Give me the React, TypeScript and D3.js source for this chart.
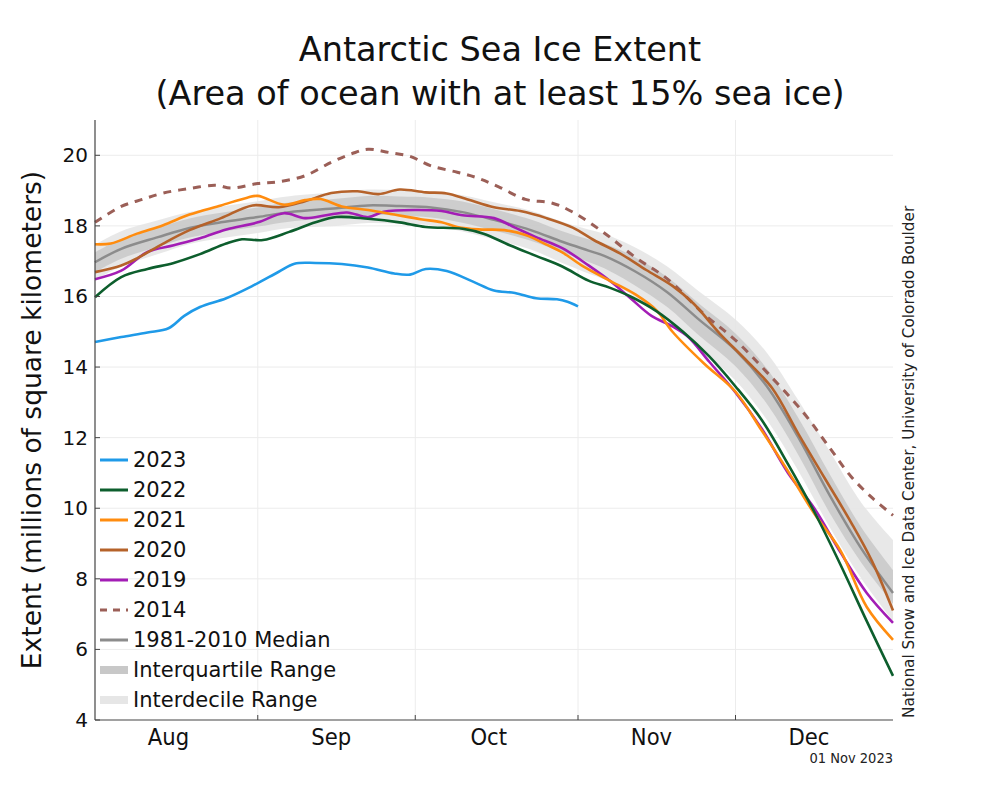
import React from "react";
import * as d3 from "d3";

// Day index: 0 = Aug 1, 152 = Dec 31
const monthNames = ["Aug", "Sep", "Oct", "Nov", "Dec"];
const monthStartDays = [0, 31, 61, 92, 122, 153];
const monthLabelDays = [14, 45, 75, 106, 136];
const yTicks = [4, 6, 8, 10, 12, 14, 16, 18, 20];

const days2023 = [0, 5, 10, 14, 17, 20, 25, 30, 35, 38, 42, 47, 52, 57, 60, 63, 67, 72, 76, 80, 84, 88, 90, 92];
const ext2023 = [14.71, 14.85, 14.98, 15.1, 15.45, 15.7, 15.95, 16.3, 16.7, 16.93, 16.95, 16.92, 16.82, 16.65, 16.62, 16.78, 16.72, 16.42, 16.17, 16.1, 15.95, 15.92, 15.85, 15.72];

const days2022 = [0, 5, 10, 15, 20, 25, 28, 32, 37, 42, 46, 52, 58, 63, 70, 74, 79, 84, 89, 94, 98, 102, 107, 112, 117, 122, 127, 132, 137, 142, 147, 152];
const ext2022 = [15.98, 16.55, 16.78, 16.95, 17.2, 17.5, 17.62, 17.6, 17.83, 18.1, 18.25, 18.2, 18.1, 17.97, 17.92, 17.78, 17.45, 17.15, 16.85, 16.45, 16.25, 16.0, 15.58, 15.0, 14.3, 13.45, 12.5, 11.25, 9.9, 8.4, 6.8, 5.25];

const days2021 = [0, 3, 8, 13, 18, 24, 29, 31, 36, 40, 43, 47, 52, 57, 62, 66, 69, 73, 78, 82, 86, 89, 93, 98, 103, 107, 110, 116, 122, 127, 132, 137, 142, 147, 152];
const ext2021 = [17.48, 17.5, 17.78, 18.02, 18.32, 18.58, 18.8, 18.85, 18.6, 18.73, 18.76, 18.55, 18.45, 18.32, 18.19, 18.1, 17.97, 17.9, 17.88, 17.74, 17.47, 17.25, 16.85, 16.45, 16.05, 15.6, 15.0, 14.1, 13.3, 12.2, 11.05, 9.85, 8.8, 7.2, 6.27];

const days2020 = [0, 5, 8, 13, 18, 24, 30, 35, 40, 45, 50, 54, 58, 63, 67, 71, 76, 81, 86, 91, 95, 100, 105, 110, 114, 119, 124, 129, 134, 139, 144, 148, 152];
const ext2020 = [16.69, 16.88, 17.08, 17.5, 17.88, 18.22, 18.58, 18.53, 18.7, 18.93, 18.98, 18.9, 19.03, 18.95, 18.92, 18.75, 18.53, 18.42, 18.22, 17.95, 17.6, 17.22, 16.75, 16.3, 15.8, 14.95, 14.2, 13.4, 12.1, 10.85, 9.6, 8.5, 7.1];

const days2019 = [0, 5, 10, 15, 20, 25, 31, 36, 40, 44, 48, 52, 55, 61, 66, 70, 76, 80, 84, 89, 94, 98, 102, 106, 110, 113, 117, 122, 127, 132, 137, 142, 147, 152];
const ext2019 = [16.49, 16.73, 17.26, 17.45, 17.65, 17.9, 18.1, 18.36, 18.22, 18.3, 18.38, 18.25, 18.4, 18.45, 18.42, 18.3, 18.22, 17.95, 17.68, 17.37, 16.88, 16.45, 15.95, 15.45, 15.15, 14.85, 14.15, 13.28, 12.25, 11.0, 10.0, 8.75, 7.6, 6.75];

const days2014 = [0, 5, 9, 13, 18, 23, 26, 31, 35, 40, 45, 49, 52, 56, 60, 64, 69, 73, 77, 82, 87, 91, 97, 103, 109, 116, 122, 128, 135, 140, 144, 148, 152];
const ext2014 = [18.1, 18.55, 18.75, 18.93, 19.06, 19.15, 19.07, 19.2, 19.25, 19.42, 19.8, 20.05, 20.17, 20.08, 19.97, 19.7, 19.52, 19.35, 19.1, 18.75, 18.65, 18.39, 17.8, 17.1, 16.5, 15.5, 14.76, 13.85, 12.7, 11.7, 10.9, 10.3, 9.8];

const daysMedian = [0, 5, 12, 18, 24, 31, 37, 46, 52, 58, 64, 70, 76, 83, 89, 94, 97, 103, 109, 115, 122, 128, 134, 140, 146, 152];
const extMedian = [16.97, 17.35, 17.68, 17.94, 18.1, 18.25, 18.39, 18.5, 18.58, 18.56, 18.52, 18.39, 18.17, 17.88, 17.55, 17.3, 17.15, 16.7, 16.12, 15.35, 14.48, 13.45, 12.0, 10.35, 8.85, 7.6];
const iqrHigh = [17.25, 17.63, 17.95, 18.21, 18.37, 18.52, 18.66, 18.77, 18.85, 18.83, 18.8, 18.69, 18.47, 18.18, 17.85, 17.62, 17.5, 17.1, 16.55, 15.8, 14.95, 13.95, 12.55, 10.95, 9.45, 8.25];
const iqrLow = [16.69, 17.07, 17.41, 17.67, 17.83, 17.98, 18.12, 18.23, 18.31, 18.29, 18.24, 18.09, 17.87, 17.58, 17.25, 16.98, 16.8, 16.3, 15.7, 14.9, 14.02, 12.95, 11.5, 9.85, 8.45, 7.3];
const idrHigh = [17.47, 17.85, 18.16, 18.39, 18.55, 18.7, 18.84, 18.95, 19.03, 19.01, 18.97, 18.87, 18.67, 18.43, 18.12, 17.9, 17.78, 17.38, 16.85, 16.15, 15.35, 14.4, 13.05, 11.6, 10.15, 9.1];
const idrLow = [16.47, 16.85, 17.2, 17.49, 17.65, 17.8, 17.94, 18.0, 18.08, 18.06, 18.02, 17.84, 17.62, 17.33, 16.95, 16.65, 16.48, 15.98, 15.35, 14.55, 13.62, 12.5, 11.05, 9.45, 8.0, 6.8];

const seriesNames = ["2023", "2022", "2021", "2020", "2019", "2014"];
const seriesColors = ["#1f9ae8", "#0d5e2d", "#ff8c0f", "#b5622a", "#a31db5", "#9b5f57"];

const W = 1000;
const H = 800;
const left = 95;
const right = 893;
const top = 120;
const bottom = 720;

export default function App() {
  const x = d3.scaleLinear().domain([0, 152]).range([left, right]);
  const y = d3.scaleLinear().domain([4, 21]).range([bottom, top]);
  const line = (ds: number[], vs: number[]) =>
    d3
      .line<number>()
      .x((_, i) => x(ds[i]))
      .y((v) => y(v))
      .curve(d3.curveCatmullRom.alpha(0.5))(vs) || "";
  const band = (ds: number[], lo: number[], hi: number[]) =>
    d3
      .area<number>()
      .x((_, i) => x(ds[i]))
      .y0((_, i) => y(lo[i]))
      .y1((_, i) => y(hi[i]))
      .curve(d3.curveCatmullRom.alpha(0.5))(ds) || "";

  const seriesDays = [days2023, days2022, days2021, days2020, days2019, days2014];
  const seriesVals = [ext2023, ext2022, ext2021, ext2020, ext2019, ext2014];

  const legendItems = [
    ...seriesNames.map((n, i) => ({ label: n, color: seriesColors[i], w: 3, dash: i === 5 ? "7 6" : undefined })),
    { label: "1981-2010 Median", color: "#8c8c8c", w: 3, dash: undefined },
    { label: "Interquartile Range", color: "#c8c8c8", w: 8, dash: undefined },
    { label: "Interdecile Range", color: "#e6e6e6", w: 8, dash: undefined },
  ];

  const font = "DejaVu Sans, sans-serif";
  const condensed = "DejaVu Sans Condensed, DejaVu Sans, sans-serif";

  return (
    <svg width={W} height={H} style={{ position: "absolute", left: 0, top: 0, background: "#fff" }}>
      <rect width={W} height={H} fill="#fff" />
      <text x={500} y={61} textAnchor="middle" fontFamily={font} fontSize={33.5} fill="#111">
        Antarctic Sea Ice Extent
      </text>
      <text x={500} y={105} textAnchor="middle" fontFamily={font} fontSize={33.5} fill="#111">
        (Area of ocean with at least 15% sea ice)
      </text>

      {/* grid */}
      <g stroke="#ececec" strokeWidth={1}>
        {yTicks.slice(1).map((t) => (
          <line key={"gy" + t} x1={left} x2={right} y1={y(t)} y2={y(t)} />
        ))}
        {monthStartDays.slice(1, 5).map((d) => (
          <line key={"gx" + d} x1={x(d)} x2={x(d)} y1={top} y2={bottom} />
        ))}
      </g>

      {/* bands */}
      <path d={band(daysMedian, idrLow, idrHigh)} fill="#e6e6e6" opacity={0.9} />
      <path d={band(daysMedian, iqrLow, iqrHigh)} fill="#c6c6c6" opacity={0.8} />
      <path d={line(daysMedian, extMedian)} fill="none" stroke="#8c8c8c" strokeWidth={2.5} />

      {/* series, drawn oldest first */}
      {[5, 4, 3, 2, 1, 0].map((i) => (
        <path
          key={seriesNames[i]}
          d={line(seriesDays[i], seriesVals[i])}
          fill="none"
          stroke={seriesColors[i]}
          strokeWidth={i === 5 ? 3 : 2.6}
          strokeDasharray={i === 5 ? "8 7" : undefined}
        />
      ))}

      {/* axes */}
      <line x1={left} x2={left} y1={top} y2={bottom} stroke="#444" strokeWidth={1.2} />
      <line x1={left} x2={right} y1={bottom} y2={bottom} stroke="#444" strokeWidth={1.2} />
      {monthStartDays.slice(1, 5).map((d) => (
        <line key={"tx" + d} x1={x(d)} x2={x(d)} y1={bottom} y2={bottom - 5} stroke="#444" strokeWidth={1} />
      ))}
      {yTicks.map((t) => (
        <g key={"ty" + t}>
          <line x1={left} x2={left + 5} y1={y(t)} y2={y(t)} stroke="#444" strokeWidth={1} />
          <text x={88} y={y(t) + 7} textAnchor="end" fontFamily={font} fontSize={20} fill="#111">
            {t}
          </text>
        </g>
      ))}
      {monthNames.map((m, i) => (
        <text key={m} x={x(monthLabelDays[i])} y={745} textAnchor="middle" fontFamily={condensed} fontSize={23.5} fill="#111">
          {m}
        </text>
      ))}
      <text x={right} y={763} textAnchor="end" fontFamily={condensed} fontSize={14.5} fill="#222">
        01 Nov 2023
      </text>

      <text
        transform={`translate(41, ${(top + bottom) / 2}) rotate(-90)`}
        textAnchor="middle"
        fontFamily={font}
        fontSize={26.5}
        fill="#111"
      >
        Extent (millions of square kilometers)
      </text>
      <text transform={`translate(914, 718) rotate(-90)`} textAnchor="start" fontFamily={font} fontSize={15.3} fill="#222">
        National Snow and Ice Data Center, University of Colorado Boulder
      </text>

      {/* legend */}
      {legendItems.map((it, i) => (
        <g key={it.label} transform={`translate(0, ${460 + i * 30})`}>
          <line x1={100} x2={128} y1={0} y2={0} stroke={it.color} strokeWidth={it.w} strokeDasharray={it.dash} />
          <text x={133} y={7} fontFamily={font} fontSize={21} fill="#111">
            {it.label}
          </text>
        </g>
      ))}
    </svg>
  );
}
